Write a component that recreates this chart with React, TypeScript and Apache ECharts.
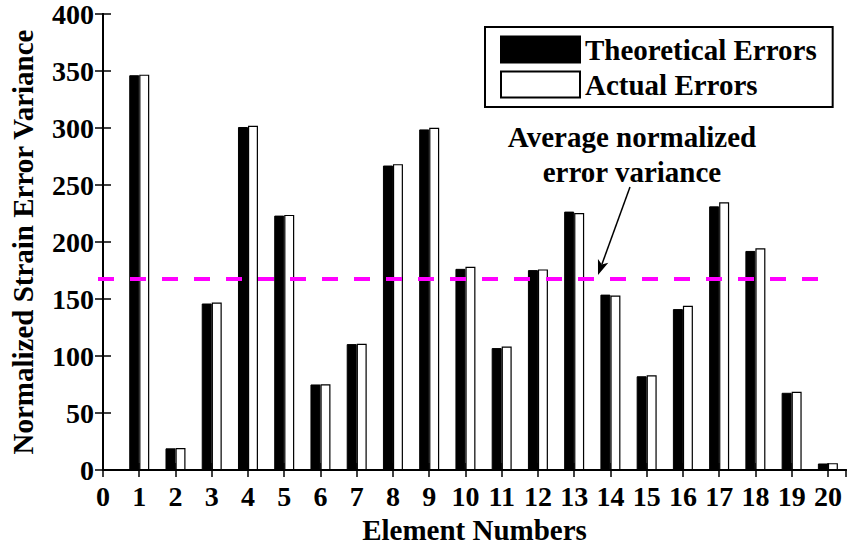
import React, { useEffect, useRef } from "react";
import * as echarts from "echarts";

const elements = [1, 2, 3, 4, 5, 6, 7, 8, 9, 10, 11, 12, 13, 14, 15, 16, 17, 18, 19, 20];
const theoreticalErrors = [346.3, 19.1, 146.1, 300.9, 223.2, 75.1, 110.5, 267.1, 298.8, 176.5, 107.0, 175.4, 226.7, 153.9, 82.3, 141.2, 231.3, 192.2, 67.8, 5.8];
const actualErrors = [346.8, 19.3, 147.0, 302.0, 223.8, 75.3, 110.7, 268.3, 300.2, 178.3, 108.4, 176.0, 225.5, 153.1, 83.2, 144.1, 234.8, 194.5, 68.7, 6.1];
const averageVariance = 168.2;
const seriesNames = ["Theoretical Errors", "Actual Errors"];
const annotationLines = ["Average normalized", "error variance"];

const FONT = "'Liberation Serif', 'Times New Roman', serif";

export default function App() {
  const ref = useRef<HTMLDivElement>(null);
  useEffect(() => {
    if (!ref.current) return;
    const chart = echarts.init(ref.current, null, { renderer: "svg" });
    const font = { fontFamily: FONT, fontWeight: "bold" as const, fontSize: 29, color: "#000" };
    const tickFont = { ...font, fontSize: 28 };
    const axisLine = { show: true, lineStyle: { color: "#000", width: 2 } };
    const tip = [598, 275];
    const from = [630, 187];
    const dx = tip[0] - from[0];
    const dy = tip[1] - from[1];
    const len = Math.sqrt(dx * dx + dy * dy);
    const ux = dx / len, uy = dy / len;
    const px = -uy, py = ux;
    const hl = 15, hw = 5.5;
    const bx = tip[0] - ux * hl, by = tip[1] - uy * hl;
    const ix = tip[0] - ux * hl * 0.75, iy = tip[1] - uy * hl * 0.75;
    chart.setOption({
      animation: false,
      grid: { left: 102, right: 1, top: 13, bottom: 77, containLabel: false },
      xAxis: [
        {
          type: "value",
          min: 0,
          max: 20.5,
          interval: 1,
          name: "Element Numbers",
          nameLocation: "middle",
          nameGap: 44,
          nameTextStyle: font,
          axisLine,
          axisTick: { show: true, inside: true, length: 7, lineStyle: { color: "#000", width: 1.5 } },
          axisLabel: {
            ...tickFont,
            margin: 12,
            showMaxLabel: false,
            formatter: (v: number) => (Number.isInteger(v) ? String(v) : ""),
          },
          splitLine: { show: false },
        },
        {
          type: "value",
          position: "top",
          min: 0,
          max: 20.5,
          interval: 1,
          axisLine,
          axisTick: { show: true, inside: true, length: 7, lineStyle: { color: "#000", width: 1.5 } },
          axisLabel: { show: false },
          splitLine: { show: false },
        },
      ],
      yAxis: [
        {
          type: "value",
          min: 0,
          max: 400,
          interval: 50,
          name: "Normalized Strain Error Variance",
          nameLocation: "middle",
          nameGap: 66,
          nameTextStyle: font,
          axisLine,
          axisTick: { show: true, inside: true, length: 8, lineStyle: { color: "#000", width: 1.5 } },
          axisLabel: { ...tickFont, margin: 9 },
          splitLine: { show: false },
        },
        {
          type: "value",
          position: "right",
          min: 0,
          max: 400,
          interval: 50,
          axisLine,
          axisTick: { show: true, inside: true, length: 8, lineStyle: { color: "#000", width: 1.5 } },
          axisLabel: { show: false },
          splitLine: { show: false },
        },
      ],
      legend: {
        data: seriesNames.map((n) => ({ name: n, icon: "rect" })),
        orient: "vertical",
        left: 485,
        top: 27,
        itemWidth: 79,
        itemHeight: 26,
        itemGap: 6,
        padding: [8, 16, 8, 15],
        borderColor: "#000",
        borderWidth: 2,
        borderRadius: 0,
        backgroundColor: "#fff",
        textStyle: { ...font },
      },
      series: [
        {
          name: seriesNames[0],
          type: "bar",
          xAxisIndex: 0,
          yAxisIndex: 0,
          barWidth: 10,
          barGap: "0%",
          itemStyle: { color: "#000", borderColor: "#000", borderWidth: 1 },
          data: elements.map((e, i) => [e, theoreticalErrors[i]]),
          markLine: {
            silent: true,
            symbol: ["none", "none"],
            label: { show: false },
            lineStyle: { color: "#ff00ff", width: 4, type: [16, 16] },
            data: [[{ coord: [0, averageVariance] }, { coord: [20, averageVariance] }]],
          },
        },
        {
          name: seriesNames[1],
          type: "bar",
          xAxisIndex: 0,
          yAxisIndex: 0,
          barWidth: 10,
          barGap: "0%",
          itemStyle: { color: "#fff", borderColor: "#000", borderWidth: 1.2 },
          data: elements.map((e, i) => [e, actualErrors[i]]),
        },
      ],
      graphic: [
        {
          type: "text",
          x: 632,
          y: 137,
          style: { text: annotationLines[0], ...font, fill: "#000", align: "center", verticalAlign: "middle" },
        },
        {
          type: "text",
          x: 632,
          y: 172,
          style: { text: annotationLines[1], ...font, fill: "#000", align: "center", verticalAlign: "middle" },
        },
        {
          type: "line",
          shape: { x1: from[0], y1: from[1], x2: ix, y2: iy },
          style: { stroke: "#000", lineWidth: 1.5 },
        },
        {
          type: "polygon",
          shape: {
            points: [
              [tip[0], tip[1]],
              [bx + px * hw, by + py * hw],
              [ix, iy],
              [bx - px * hw, by - py * hw],
            ],
          },
          style: { fill: "#000" },
        },
      ],
    });
    return () => chart.dispose();
  }, []);
  return <div ref={ref} style={{ position: "absolute", left: 0, top: 0, width: 847, height: 549, background: "#fff" }} />;
}
